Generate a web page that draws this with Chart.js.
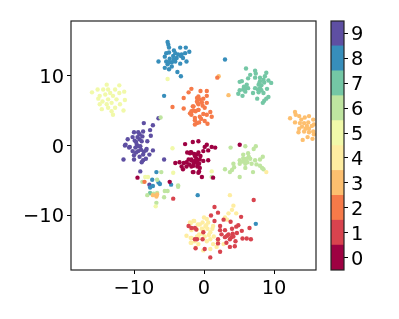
<!DOCTYPE html>
<html>
<head>
    <title>Clusters</title>
    <style>
        body { margin: 0; background: #fff; }
        canvas { position: absolute; left: 0; top: 0; }
    </style>
</head>

<body>

    <canvas id="scatter" width="399" height="319"></canvas>
    <canvas id="colorbar" width="399" height="319"></canvas>

    <script src="https://cdn.jsdelivr.net/npm/chart.js"></script>

    <script>
        const classLabels = [0, 1, 2, 3, 4, 5, 6, 7, 8, 9];
        const classColors = ["#9e0142", "#d8434e", "#f67a49", "#fdbf6f", "#feeda1", "#f1f9a9", "#bfe5a0", "#74c7a5", "#378ebb", "#5e4fa2"];
        const xTicks = [-10, 0, 10];
        const yTicks = [-10, 0, 10];

        const class0 = [[-2.7,.2],[-.8,.6],[-2,-1.1],[-1,-1.3],[-4.1,-2.5],[-3.5,-2.4],[-2.9,-2.5],[-2.5,-2.4],[-1.8,-2.1],[-1,-2.2],[-3.2,-3],[-2.5,-3],[-1.8,-3],[-.95,-3],[-3,-3.4],[-1.6,-3.8],[-.8,-3.9],[-9.5,-4.6],[-4.9,-5.2],[-1.6,.5],[.4,.1],[.1,-.2],[1.1,-.2],[1.6,-.3],[5.1,.1],[-.1,-.8],[.6,-.7],[-.8,-1],[-1.8,-1],[-1.3,-1.5],[-1.8,-2],[-.6,-2],[-.1,-2.2],[.6,-2.1],[-1.3,-2.2],[-1,-2.5],[-1.5,-2.9],[-.6,-3.2],[-1.5,-3.8],[-.7,-3.7],[-.3,-4.5],[1.3,-4.6],[-1.4,-1.2],[-.5,-1.5],[-2.2,-2],[-1.1,-1.9],[-.7,-2.6],[-2.1,-2.7],[-2.4,-1],[-1.9,-.95],[-1.3,-1.3],[-1.5,-2.5]];
        const class1 = [[7.1,-7.8],[1.5,-8.8],[2,-9.6],[1,-10],[5.3,-10.2],[1.5,-10.8],[2.8,-10.6],[3.8,-10.9],[4.9,-11.4],[2.3,-11.5],[4.6,-11.6],[6.5,-11.8],[3,-12.1],[4,-11.9],[5.4,-12.2],[2.3,-12.1],[2.5,-12.7],[3.5,-12.7],[4.1,-12.6],[4.7,-12.5],[3,-13.1],[5.5,-13.3],[6.1,-13.3],[6.7,-13.4],[3.7,-13.4],[4.5,-13.7],[2,-13.4],[3.2,-13.9],[2,-14],[3.7,-14.5],[4.4,-14.4],[2.3,-15.2],[.9,-16],[-.1,-12.4],[-.2,-13.4],[-1.1,-12],[-1.8,-11.8],[.1,-14.8],[-1,-13.4],[-4.4,-7.6],[-2.2,-11.5],[-1.3,-11.8],[-1.2,-14.7],[-1.3,-13.4],[3.3,-12.9],[4.2,-13],[3.9,-13.1]];
        const class2 = [[-2.2,7.6],[-1.8,8.1],[-2.9,6.8],[-1,6.8],[-4.5,5.5],[-2.9,5.3],[-2,4.6],[-1.6,5.6],[-1.3,3.95],[-1,3.2],[-.9,6.1],[-.8,5.1],[-.5,7.8],[.4,7.8],[.4,7.1],[-.8,7],[-.1,6.7],[-1,6.3],[-.3,6.2],[.4,6.1],[-.8,5.9],[.1,5.4],[-1.5,5.6],[-1.8,4.9],[-.8,5.1],[.9,4.8],[-.1,4.5],[.4,4.4],[1.1,4.1],[-.6,4.1],[-1.3,3.6],[-.7,3.3],[.1,3.5],[.5,3.1],[-1.3,3],[-1.8,4.4],[1.9,9.7],[-8.5,-5.2],[-.6,6.6],[-.2,5.7],[-1.2,4.9],[-.4,3.8],[-1.5,5]];
        const class3 = [[2.1,9.9],[3.5,7.2],[13,4.8],[13.1,4.4],[12.3,3.9],[13.6,4.2],[14.4,4],[15,4.2],[15.6,3.7],[13,3.3],[13.7,3.2],[14.3,3.2],[14.9,3.3],[14,2.7],[13.6,2.4],[14.7,2.8],[15.4,2.8],[15.7,3],[13.5,1.9],[14.3,2],[15,1.9],[15.6,2],[14.8,1.2],[14.1,.8],[15.5,.95],[15.7,1.6],[-7.3,-7.1],[-6.8,-7.3],[-6.7,-7],[14.5,2.4],[15,2.4],[13.9,3.7]];
        const class4 = [[8.9,-3.8],[3.7,-7.1],[4.2,-8.6],[4,-9.2],[3.5,-9.7],[4.6,-9.7],[3,-10.3],[3.3,-10.6],[0,-10.3],[.4,-10.5],[-1.5,-10.8],[-.2,-11],[.6,-11],[-2,-11],[-.6,-11.3],[.3,-11.4],[1.3,-11.5],[-.3,-11.9],[.5,-11.9],[1.2,-11.9],[-.1,-12.2],[.9,-12.4],[-.7,-12.7],[.1,-13],[1.4,-13],[-.8,-13.2],[.9,-13.4],[.4,-13.7],[-1.8,-13.2],[-1.3,-13.7],[-1.9,-13.9],[1.3,-14.1],[1.8,-14.5],[.9,-14.8],[-.1,-15],[2,-13.7],[2.8,-14.1],[-1.2,-14.6],[-1.4,-10.8],[-1.9,-11.1],[-.9,-11.3],[-2.5,-12.9],[-1.8,-12.1],[-1,-12],[-1.9,-13.2],[-1,-13],[-1.8,-13.9],[-.8,-14.1],[.2,-11.6],[-.2,-12.6],[.7,-12.8]];
        const class5 = [[-13.9,8.7],[-12.1,8.6],[-15.2,8],[-14.4,8],[-16,7.6],[-13.7,8],[-12.7,8],[-11.4,7.7],[-12.1,7.5],[-13.4,7.5],[-14.9,7.1],[-14.1,7.3],[-13,7.1],[-15.1,6.7],[-13.7,6.6],[-12.5,6.6],[-11.3,6.5],[-14.5,6.3],[-13.2,6.1],[-14.9,5.9],[-13.9,5.9],[-12,5.9],[-12.7,5.4],[-14.6,5.2],[-13.7,5.4],[-11.5,5],[-13.2,4.9],[-13,4.4],[-5.2,9.5],[-4.5,-.4],[-4.4,-3.9],[-8.4,-4.5],[-8,-4.5],[-6.9,-8.7],[1.1,-3.7]];
        const class6 = [[3.8,-.3],[5.9,-.1],[7.4,-.1],[7.1,-.5],[5.6,-1.3],[6.3,-1.1],[8.4,-1.6],[8,-2],[5.1,-2.1],[5.9,-2.1],[6.6,-1.9],[7.3,-2.1],[4.2,-2.6],[5.1,-2.6],[5.9,-2.6],[6.8,-2.6],[7.5,-2.7],[8,-2.9],[4.3,-3.1],[5.9,-3.2],[8.3,-3.2],[3,-3.4],[4,-3.5],[3.7,-3.8],[7,-3.8],[8.5,-3.4],[5.1,-4.5],[1.1,-4.5],[-6.1,-3.8],[-8.8,-5.2],[-6.7,-4.9],[-3.7,-5.7],[-3.7,-5.9],[-5.6,-6.5],[-5.2,-6.5],[-8.1,-7.1],[-6.7,-6.8],[-7.2,-6.9],[-5.7,-7.4],[-6.8,-8.2],[-6.2,4],[5.5,-2.3],[6.2,-2.4],[6.4,-1.6],[5.6,-1.8],[6.1,-1.9]];
        const class7 = [[6,11],[6.6,10.1],[7.3,10.7],[7.4,10.3],[8.9,10.4],[6.3,9.6],[7.3,9.7],[8.7,9.9],[8,9.7],[8.5,9.4],[5.4,9.2],[5.1,9.1],[8,9.2],[9.2,9.3],[9.6,8.95],[6.1,8.7],[5.7,8.4],[6.3,8.2],[7.8,8.7],[8.2,8.6],[7.3,8.2],[8,8.2],[9,8.1],[5.1,7.9],[5.6,8],[7,7.5],[7.8,7.6],[8.5,7.5],[4.9,7.4],[5.5,7.1],[9.2,6.95],[8.9,6.7],[7.6,6.7],[8.6,6.4],[8.4,6.1],[-7.7,-6.8],[7.9,8.9],[7.7,8],[8.2,7.9],[5.9,7.7],[6,8.2],[8.6,9]];
        const class8 = [[-5.2,14.8],[-5.1,14.4],[-5,14],[-3.4,14],[-2.6,14],[-4.3,13.6],[-5.4,13.2],[-5,13.3],[-4.1,13.2],[-3.7,13],[-3.2,13],[-2.7,13.2],[-2.1,13.4],[-4.4,12.8],[-5.6,12.7],[-4.9,12.4],[-3.9,12.5],[-3.3,12.8],[-6.5,12],[-5.4,12],[-4.6,11.9],[-4.1,12],[-2.5,12],[-3.4,11.7],[-5.2,11.6],[-4.6,11.3],[-5.6,11.1],[-5,10.9],[-3.8,10.5],[-3.3,9.9],[-5.7,7.1],[3,12.3],[-.9,-7.1],[7.4,-11.2],[-6.8,-3.8],[-7.4,-4.9],[-7.7,-6],[-7.3,-5.8],[-6.5,-5.3],[-6.3,-5.5],[-4.7,-5.6],[-4.3,12.3],[-5,11.9],[-3,12.5]];
        const class9 = [[-8.6,3.2],[-7.3,2.9],[-6.5,3.9],[-8.7,2],[-10,1.9],[-9.4,1.9],[-7.7,2.2],[-7.6,1.4],[-10.2,1.2],[-9.5,1.2],[-8.8,1.3],[-10.9,.9],[-9.9,.7],[-8.9,.6],[-11.3,0],[-10.6,-.2],[-9.6,.1],[-9.1,-.1],[-8.2,-.5],[-11.2,.1],[-10.7,-.3],[-9.7,.5],[-9.4,-.1],[-8.1,.6],[-8.3,-.7],[-7.3,-.7],[-10.2,-.8],[-9.4,-.8],[-8.7,-1.3],[-7.8,-1.3],[-10,-1.4],[-11.5,-2],[-10,-2],[-8.7,-2.1],[-8.3,-1.9],[-8.9,-2.4],[-5.7,-2],[-9.1,-3.7],[-7.8,-5.6],[-9.2,.9],[-9.8,-.3],[-9,-.6],[-9.7,-1],[-9.2,-1.6],[-8.6,-.9],[-9.2,1.6]];

        const classes = [class0, class1, class2, class3, class4, class5, class6, class7, class8, class9];

        Chart.defaults.font.family = "'DejaVu Sans'";
        Chart.defaults.font.size = 19.4;
        Chart.defaults.color = "#000";
        Chart.defaults.animation = false;
        Chart.defaults.responsive = false;

        const minus = v => String(v).replace("-", "\u2212");

        // frame around the plot area, the axes only give two sides
        const frame = {
            id: "frame",
            afterDraw(chart) {
                const a = chart.chartArea;
                chart.ctx.save();
                chart.ctx.strokeStyle = "#222";
                chart.ctx.lineWidth = 1.2;
                chart.ctx.strokeRect(a.left, a.top, a.right - a.left, a.bottom - a.top);
                chart.ctx.restore();
            }
        };

        function tickAxis(ticks, size, horizontal) {
            return {
                afterBuildTicks: s => { s.ticks = ticks.map(v => ({ value: v })); },
                afterFit: s => { if (horizontal) s.height = size; else s.width = size; },
                border: { display: false },
                grid: { drawOnChartArea: false, tickLength: 4, color: "#000", lineWidth: 1 },
                ticks: { autoSkip: false, maxRotation: 0, padding: 3, labelOffset: horizontal ? 0 : 2, callback: minus }
            };
        }

        new Chart(document.getElementById("scatter"), {
            type: "scatter",
            data: {
                datasets: classes.map((c, i) => ({
                    label: String(classLabels[i]),
                    data: c.map(p => ({ x: p[0], y: p[1] })),
                    backgroundColor: classColors[i],
                    borderWidth: 0,
                    pointRadius: 2.2
                }))
            },
            options: {
                layout: { padding: { top: 21, right: 83 } },
                plugins: { legend: { display: false }, tooltip: { enabled: false } },
                scales: {
                    x: { ...tickAxis(xTicks, 49, true), min: -19, max: 16 },
                    y: { ...tickAxis(yTicks, 71, false), min: -17.8, max: 17.8 }
                }
            },
            plugins: [frame]
        });

        new Chart(document.getElementById("colorbar"), {
            type: "bar",
            data: {
                labels: [""],
                datasets: classLabels.map((v, i) => ({
                    data: [[v - 0.5, v + 0.5]],
                    backgroundColor: classColors[i],
                    borderWidth: 0,
                    categoryPercentage: 1,
                    barPercentage: 1,
                    grouped: false
                }))
            },
            options: {
                layout: { padding: { left: 331, top: 21, bottom: 49 } },
                plugins: { legend: { display: false }, tooltip: { enabled: false } },
                scales: {
                    x: { display: false },
                    y: { ...tickAxis(classLabels, 55, false), position: "right", min: -0.5, max: 9.5 }
                }
            },
            plugins: [frame]
        });
    </script>

</body>
